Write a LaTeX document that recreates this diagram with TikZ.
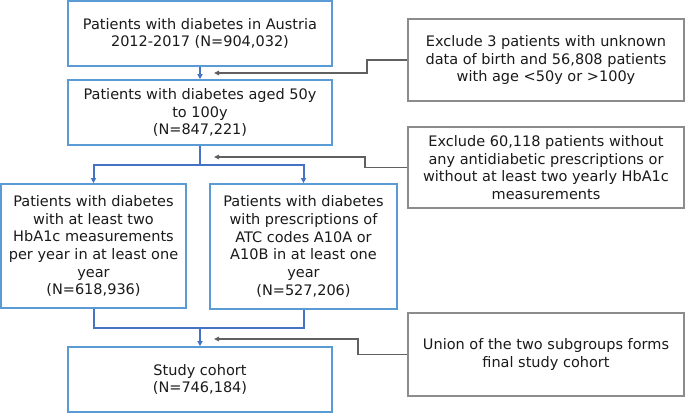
\documentclass[tikz,border=0pt]{standalone}
\usepackage{fontspec}
\setmainfont{DejaVu Sans}
\usetikzlibrary{arrows.meta}
\definecolor{boxblue}{HTML}{5B9BD5}
\definecolor{linkblue}{HTML}{4472C4}
\definecolor{boxgray}{HTML}{8C8C8C}
\definecolor{linkgray}{HTML}{606060}
\definecolor{txt}{HTML}{1A1A1A}
\tikzset{
  bluebox/.style={draw=boxblue, line width=1.7pt, align=center, inner sep=1pt, text=txt,
    font=\fontsize{14.5}{17.7}\selectfont},
  graybox/.style={draw=boxgray, line width=1.5pt, align=center, inner sep=1pt, text=txt,
    font=\fontsize{14.5}{17.7}\selectfont},
  bluelink/.style={draw=linkblue, line width=2pt},
  bluearrow/.style={bluelink, -{Triangle[length=5pt,width=5pt]}},
  grayarrow/.style={draw=linkgray, line width=1.4pt, -{Triangle[length=5pt,width=4.5pt]}}
}
\begin{document}
\begin{tikzpicture}[x=1pt,y=-1pt]
\useasboundingbox (0,0) rectangle (685,413);
\node[bluebox, minimum width=264, minimum height=65] (b1) at (200,33.5)
  {Patients with diabetes in Austria\\2012-2017 (N=904,032)};
\node[bluebox, minimum width=264, minimum height=65] (b2) at (200,112.5)
  {Patients with diabetes aged 50y\\to 100y\\(N=847,221)};
\node[bluebox, minimum width=185, minimum height=124] (b3) at (93.5,246)
  {Patients with diabetes\\with at least two\\HbA1c measurements\\per year in at least one\\year\\(N=618,936)};
\node[bluebox, minimum width=187, minimum height=125] (b4) at (303.5,246.5)
  {Patients with diabetes\\with prescriptions of\\ATC codes A10A or\\A10B in at least one\\year\\(N=527,206)};
\node[bluebox, minimum width=264, minimum height=65] (b5) at (200,379.5)
  {Study cohort\\(N=746,184)};
\node[graybox, minimum width=276, minimum height=82] (e1) at (546,60)
  {Exclude 3 patients with unknown\\data of birth and 56,808 patients\\with age <50y or >100y};
\node[graybox, minimum width=276, minimum height=81] (e2) at (546,167.5)
  {Exclude 60,118 patients without\\any antidiabetic prescriptions or\\without at least two yearly HbA1c\\measurements};
\node[graybox, minimum width=276, minimum height=83] (e3) at (546,354.5)
  {Union of the two subgroups forms\\final study cohort};
\coordinate (split) at (200,165);
\coordinate (merge) at (200,328);
\coordinate (a1) at (214,73);
\coordinate (a2) at (214,157);
\coordinate (a3) at (214,339);
\draw[bluearrow] (b1.south) -- (b2.north);
\draw[bluelink] (b2.south) -- (split);
\draw[bluearrow] (split) -| (b3.north);
\draw[bluearrow] (split) -| (b4.north);
\draw[bluelink] (b3.south) |- (merge) -| (b4.south);
\draw[bluearrow] (merge) -- (b5.north);
\draw[grayarrow] (e1.west) -- (367,60) |- (a1);
\draw[grayarrow] (e2.west) -- (365,167.5) |- (a2);
\draw[grayarrow] (e3.west) -- (358,354.5) |- (a3);
\end{tikzpicture}
\end{document}
